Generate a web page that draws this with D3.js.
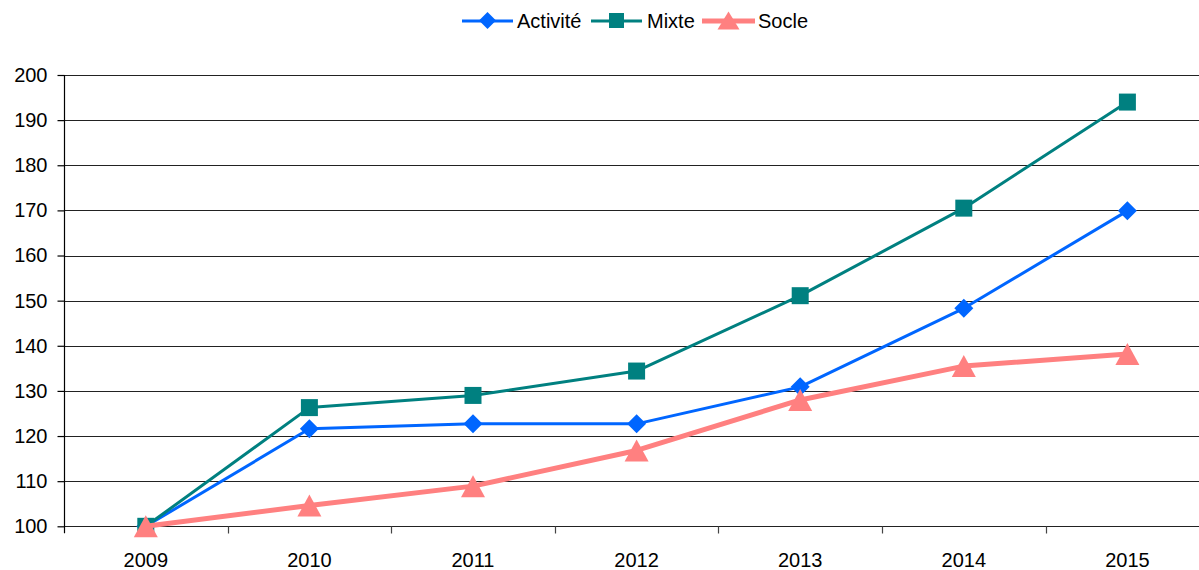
<!DOCTYPE html>
<html>
<head>
<meta charset="utf-8">
<script src="https://cdn.jsdelivr.net/npm/d3@7"></script>
<style>
  html, body { margin: 0; padding: 0; background: #fff; }
  svg { display: block; font-family: "Liberation Sans", Arial, sans-serif; }
</style>
</head>
<body>
<svg id="chart" width="1199" height="570"></svg>
<script>
// Index values, base 100 in 2009
const years = ["2009", "2010", "2011", "2012", "2013", "2014", "2015"];
const activite = [100, 121.6, 122.7, 122.7, 130.9, 148.3, 169.9];
const mixte = [100, 126.3, 129.0, 134.4, 151.1, 170.5, 194.0];
const socle = [100, 104.6, 108.9, 116.8, 128.0, 135.5, 138.2];
const yTicks = [100, 110, 120, 130, 140, 150, 160, 170, 180, 190, 200];

// marker shapes, centred on the data point
const diamond = r => `M0,${-r}L${r},0L0,${r}L${-r},0Z`;
const square = h => `M${-h},${-h}H${h}V${h}H${-h}Z`;
const triangle = (w, h) => `M0,${-h / 2}L${w / 2},${h / 2}L${-w / 2},${h / 2}Z`;

const series = [
  { name: "Activité", values: activite, color: "#0066FF", width: 3, marker: diamond(9.5), legendMarker: diamond(8.5) },
  { name: "Mixte", values: mixte, color: "#008080", width: 3, marker: square(8.5), legendMarker: square(7.5) },
  { name: "Socle", values: socle, color: "#FF8080", width: 5, marker: triangle(24, 22), legendMarker: triangle(22, 18) }
];

const svg = d3.select("#chart");
const plotLeft = 64, plotTop = 75, plotBottom = 526.3;
const band = 163.6;
const fontSize = 20;

const x = d3.scaleBand().domain(years).range([plotLeft, plotLeft + band * years.length]).paddingInner(0).paddingOuter(0);
const y = d3.scaleLinear().domain([100, 200]).range([plotBottom, plotTop]);

// horizontal gridlines
svg.append("g")
  .selectAll("line")
  .data(yTicks)
  .join("line")
  .attr("x1", plotLeft)
  .attr("x2", 1199)
  .attr("y1", d => Math.round(y(d)) + 0.5)
  .attr("y2", d => Math.round(y(d)) + 0.5)
  .attr("stroke", "#222")
  .attr("stroke-width", 1.2);

// y axis
const yAxis = svg.append("g")
  .attr("transform", `translate(${plotLeft + 0.5},0)`)
  .call(d3.axisLeft(y).tickValues(yTicks).tickSize(7).tickPadding(10).tickFormat(d3.format("d")));
yAxis.select(".domain").attr("stroke", "#000").attr("stroke-width", 1.2).attr("d", `M0,${plotTop}V${plotBottom + 7}`);
yAxis.selectAll(".tick line").attr("stroke", "#000").attr("stroke-width", 1.2);
yAxis.selectAll(".tick text").attr("font-size", fontSize).attr("fill", "#000").attr("font-family", "Liberation Sans, Arial, sans-serif");

// x axis (ticks between categories)
const xg = svg.append("g").attr("transform", `translate(0,${Math.round(plotBottom) + 0.5})`);
xg.selectAll("line.tick")
  .data(years.slice(1))
  .join("line")
  .attr("class", "tick")
  .attr("x1", d => Math.round(x(d)) + 0.5)
  .attr("x2", d => Math.round(x(d)) + 0.5)
  .attr("y1", 0)
  .attr("y2", 7)
  .attr("stroke", "#444")
  .attr("stroke-width", 1.2);
xg.selectAll("text")
  .data(years)
  .join("text")
  .attr("x", d => x(d) + x.bandwidth() / 2)
  .attr("y", 40.5)
  .attr("text-anchor", "middle")
  .attr("font-size", fontSize)
  .attr("fill", "#000")
  .text(d => d);

// lines and markers
const cx = d => x(d) + x.bandwidth() / 2;
series.forEach(s => {
  const pts = years.map((yr, i) => [cx(yr), y(s.values[i])]);
  svg.append("path")
    .attr("d", d3.line()(pts))
    .attr("fill", "none")
    .attr("stroke", s.color)
    .attr("stroke-width", s.width)
    .attr("stroke-linejoin", "round");
  svg.append("g")
    .selectAll("path")
    .data(pts)
    .join("path")
    .attr("transform", d => `translate(${d[0]},${d[1]})`)
    .attr("d", s.marker)
    .attr("fill", s.color);
});

// legend
const legendItems = [
  { s: series[0], x0: 462, x1: 513, tx: 517 },
  { s: series[1], x0: 591, x1: 642, tx: 647 },
  { s: series[2], x0: 702, x1: 755, tx: 758 }
];
const lg = svg.append("g");
legendItems.forEach(it => {
  lg.append("line")
    .attr("x1", it.x0).attr("x2", it.x1)
    .attr("y1", 21).attr("y2", 21)
    .attr("stroke", it.s.color)
    .attr("stroke-width", it.s.width);
  lg.append("path")
    .attr("transform", `translate(${(it.x0 + it.x1) / 2},20.5)`)
    .attr("d", it.s.legendMarker)
    .attr("fill", it.s.color);
  lg.append("text")
    .attr("x", it.tx)
    .attr("y", 27.5)
    .attr("font-size", fontSize)
    .attr("fill", "#000")
    .text(it.s.name);
});
</script>
</body>
</html>
